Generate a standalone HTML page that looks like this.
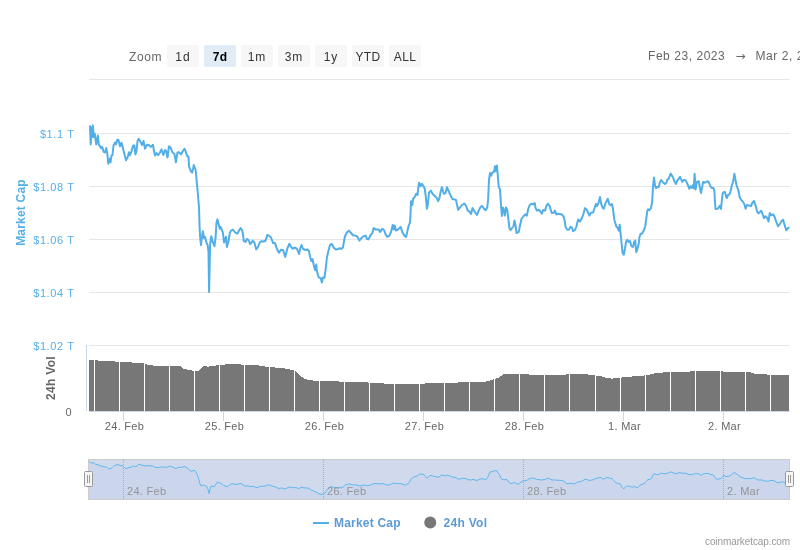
<!DOCTYPE html>
<html lang="en"><head><meta charset="utf-8"><title>Global Charts</title>
<style>html,body{margin:0;padding:0;background:#fff;}body{width:800px;height:550px;overflow:hidden;}svg{display:block;}text{font-family:"Liberation Sans", sans-serif;}</style></head><body>
<svg width="800" height="550" viewBox="0 0 800 550">
<rect x="0" y="0" width="800" height="550" fill="#ffffff"/>
<path d="M89 79.5 H790" stroke="#e6e6e6" stroke-width="1" fill="none"/>
<path d="M89 133.5 H790" stroke="#e6e6e6" stroke-width="1" fill="none"/>
<path d="M89 186.5 H790" stroke="#e6e6e6" stroke-width="1" fill="none"/>
<path d="M89 239.5 H790" stroke="#e6e6e6" stroke-width="1" fill="none"/>
<path d="M89 292.5 H790" stroke="#e6e6e6" stroke-width="1" fill="none"/>
<path d="M89 345.5 H790" stroke="#e6e6e6" stroke-width="1" fill="none"/>
<text x="129" y="61" font-size="12" fill="#666666" letter-spacing="0.6">Zoom</text>
<rect x="167" y="45" width="32" height="22" rx="2" ry="2" fill="#f7f7f7"/>
<text x="183" y="60.7" font-size="12" text-anchor="middle" fill="#333333" letter-spacing="1.0">1d</text>
<rect x="204" y="45" width="32" height="22" rx="2" ry="2" fill="#e1ecf7"/>
<text x="220" y="60.7" font-size="12" text-anchor="middle" fill="#000000" font-weight="bold" letter-spacing="0.3">7d</text>
<rect x="241" y="45" width="32" height="22" rx="2" ry="2" fill="#f7f7f7"/>
<text x="257" y="60.7" font-size="12" text-anchor="middle" fill="#333333" letter-spacing="1.0">1m</text>
<rect x="278" y="45" width="32" height="22" rx="2" ry="2" fill="#f7f7f7"/>
<text x="294" y="60.7" font-size="12" text-anchor="middle" fill="#333333" letter-spacing="1.0">3m</text>
<rect x="315" y="45" width="32" height="22" rx="2" ry="2" fill="#f7f7f7"/>
<text x="331" y="60.7" font-size="12" text-anchor="middle" fill="#333333" letter-spacing="1.0">1y</text>
<rect x="352" y="45" width="32" height="22" rx="2" ry="2" fill="#f7f7f7"/>
<text x="368" y="60.7" font-size="12" text-anchor="middle" fill="#333333" letter-spacing="0.3">YTD</text>
<rect x="389" y="45" width="32" height="22" rx="2" ry="2" fill="#f7f7f7"/>
<text x="405" y="60.7" font-size="12" text-anchor="middle" fill="#333333" letter-spacing="0.3">ALL</text>
<text x="648" y="60" font-size="12" fill="#666666" letter-spacing="0.55">Feb 23, 2023</text>
<text x="735.5" y="59.5" font-size="12" fill="#666666" style="font-family:'DejaVu Sans',sans-serif">→</text>
<text x="755.5" y="60" font-size="12" fill="#666666" letter-spacing="0.55">Mar 2, 2023</text>
<text x="74.5" y="137.9" font-size="11" text-anchor="end" fill="#55afe8" letter-spacing="0.6">$1.1 T</text>
<text x="74.5" y="190.9" font-size="11" text-anchor="end" fill="#55afe8" letter-spacing="0.6">$1.08 T</text>
<text x="74.5" y="243.9" font-size="11" text-anchor="end" fill="#55afe8" letter-spacing="0.6">$1.06 T</text>
<text x="74.5" y="296.9" font-size="11" text-anchor="end" fill="#55afe8" letter-spacing="0.6">$1.04 T</text>
<text x="74.5" y="349.9" font-size="11" text-anchor="end" fill="#55afe8" letter-spacing="0.6">$1.02 T</text>
<text x="71.5" y="416" font-size="11" text-anchor="end" fill="#666666">0</text>
<text transform="translate(24.5 212.5) rotate(-90)" font-size="12" font-weight="bold" text-anchor="middle" letter-spacing="0.2" fill="#55afe8">Market Cap</text>
<text transform="translate(55 378) rotate(-90)" font-size="12" font-weight="bold" text-anchor="middle" letter-spacing="0.3" fill="#666666">24h Vol</text>
<path d="M89.30 411.00 L89.30 360.10 L100.00 360.60 L110.00 361.00 L119.00 362.00 L130.00 362.40 L144.00 363.40 L150.00 365.40 L169.00 366.00 L180.00 366.00 L184.00 369.00 L192.00 370.60 L198.00 371.00 L203.00 366.00 L208.00 366.60 L214.00 366.00 L218.00 365.00 L230.00 364.20 L238.00 364.40 L256.00 365.00 L268.00 367.00 L284.00 368.20 L292.00 370.00 L296.00 371.00 L300.00 376.00 L304.00 378.40 L308.00 380.00 L318.00 381.00 L336.00 381.20 L344.00 382.00 L366.00 382.40 L386.00 383.60 L396.00 384.00 L413.00 383.60 L438.00 383.40 L460.00 382.40 L480.00 382.00 L486.00 381.60 L490.00 380.40 L494.00 379.00 L499.00 377.60 L503.00 374.40 L510.00 373.60 L518.00 374.00 L528.00 374.40 L532.00 375.00 L564.00 375.00 L568.00 374.20 L586.00 374.00 L592.00 375.40 L600.00 375.60 L604.00 377.40 L612.00 378.60 L619.00 378.00 L624.00 377.00 L640.00 376.00 L648.00 375.00 L656.00 373.00 L664.00 372.40 L672.00 372.00 L694.00 371.40 L720.00 371.00 L724.00 371.80 L744.00 372.00 L749.00 372.00 L754.00 373.60 L768.00 374.60 L772.00 375.00 L789.00 375.00 L789.00 411.00 Z" fill="#777777" stroke="none" shape-rendering="crispEdges"/>
<path d="M94.50 355 V411 M119.50 355 V411 M144.50 355 V411 M169.50 355 V411 M194.50 355 V411 M219.50 355 V411 M244.50 355 V411 M269.50 355 V411 M294.50 355 V411 M319.50 355 V411 M344.50 355 V411 M369.50 355 V411 M394.50 355 V411 M419.50 355 V411 M444.50 355 V411 M469.50 355 V411 M494.50 355 V411 M519.50 355 V411 M544.50 355 V411 M569.50 355 V411 M595.50 355 V411 M620.50 355 V411 M645.50 355 V411 M670.50 355 V411 M695.50 355 V411 M720.50 355 V411 M745.50 355 V411 M770.50 355 V411" stroke="#ffffff" stroke-width="1" fill="none"/>
<path d="M86.5 345 V411" stroke="#ccd6eb" stroke-width="1" fill="none"/>
<path d="M89 411.5 H790" stroke="#ccd6eb" stroke-width="1" fill="none"/>
<path d="M123.5 411 V421" stroke="#ccd6eb" stroke-width="1" fill="none"/>
<text x="124.5" y="429.6" font-size="11" text-anchor="middle" fill="#666666" letter-spacing="0.3">24. Feb</text>
<path d="M223.5 411 V421" stroke="#ccd6eb" stroke-width="1" fill="none"/>
<text x="224.5" y="429.6" font-size="11" text-anchor="middle" fill="#666666" letter-spacing="0.3">25. Feb</text>
<path d="M323.5 411 V421" stroke="#ccd6eb" stroke-width="1" fill="none"/>
<text x="324.5" y="429.6" font-size="11" text-anchor="middle" fill="#666666" letter-spacing="0.3">26. Feb</text>
<path d="M423.5 411 V421" stroke="#ccd6eb" stroke-width="1" fill="none"/>
<text x="424.5" y="429.6" font-size="11" text-anchor="middle" fill="#666666" letter-spacing="0.3">27. Feb</text>
<path d="M523.5 411 V421" stroke="#ccd6eb" stroke-width="1" fill="none"/>
<text x="524.5" y="429.6" font-size="11" text-anchor="middle" fill="#666666" letter-spacing="0.3">28. Feb</text>
<path d="M623.5 411 V421" stroke="#ccd6eb" stroke-width="1" fill="none"/>
<text x="624.5" y="429.6" font-size="11" text-anchor="middle" fill="#666666" letter-spacing="0.3">1. Mar</text>
<path d="M723.5 411 V421" stroke="#ccd6eb" stroke-width="1" fill="none"/>
<text x="724.5" y="429.6" font-size="11" text-anchor="middle" fill="#666666" letter-spacing="0.3">2. Mar</text>
<path d="M90.00 126.25 L90.70 144.40 L91.60 127.50 L92.30 137.00 L92.90 125.60 L93.75 136.90 L94.75 133.75 L96.25 144.40 L97.90 135.60 L98.75 144.40 L101.25 148.10 L102.10 146.90 L103.75 151.90 L105.25 152.50 L106.25 148.10 L107.25 153.10 L108.25 163.75 L109.50 158.75 L110.50 162.25 L111.50 155.60 L112.50 155.00 L113.50 145.60 L115.00 142.50 L116.00 144.40 L117.25 139.75 L118.50 140.00 L120.00 146.25 L121.60 142.75 L123.10 148.75 L124.75 155.60 L126.00 160.25 L127.50 157.50 L129.00 152.25 L130.00 155.25 L131.50 151.25 L133.10 145.60 L134.40 145.40 L135.40 154.40 L136.50 151.25 L137.50 141.25 L138.75 138.75 L140.60 141.90 L142.00 145.00 L143.50 141.00 L145.00 148.75 L146.90 144.75 L148.75 145.00 L151.00 146.90 L153.00 144.75 L154.00 151.25 L155.00 155.60 L156.50 153.10 L158.10 155.25 L160.00 152.50 L161.50 149.40 L163.40 155.00 L165.00 150.00 L166.20 151.20 L167.50 157.50 L169.00 146.25 L170.60 147.50 L172.50 152.50 L174.40 153.75 L175.90 162.25 L177.50 152.50 L179.00 152.25 L181.00 154.40 L183.10 150.60 L184.60 148.75 L185.60 151.25 L186.90 155.60 L188.50 156.90 L189.00 166.25 L190.60 170.60 L192.10 172.75 L193.10 168.75 L193.75 165.00 L195.60 169.75 L196.60 180.00 L197.50 190.00 L198.10 196.50 L199.00 207.50 L199.60 227.50 L200.25 238.75 L201.00 245.25 L201.90 237.50 L202.90 231.25 L204.00 238.10 L205.00 236.90 L206.25 241.90 L207.75 245.60 L208.50 252.00 L209.10 292.00 L210.10 244.50 L211.25 236.25 L212.75 241.90 L214.40 246.25 L215.60 237.50 L216.50 222.50 L217.50 219.40 L218.75 224.40 L219.75 228.75 L220.60 226.90 L221.90 230.00 L222.90 232.50 L224.00 242.50 L225.00 240.00 L226.00 236.90 L226.90 246.90 L228.50 241.25 L229.75 233.10 L231.00 230.60 L233.10 229.75 L235.00 232.25 L237.25 233.75 L239.00 230.60 L240.60 228.10 L242.10 230.00 L243.10 235.00 L243.75 241.00 L245.60 241.90 L246.90 239.00 L248.75 240.25 L250.00 244.00 L251.25 243.10 L252.75 240.60 L254.40 242.50 L256.25 249.40 L257.75 247.50 L260.00 241.90 L261.90 241.25 L263.75 241.50 L265.60 240.60 L267.25 235.00 L269.00 235.60 L271.00 237.50 L273.10 243.10 L275.00 243.10 L276.90 248.75 L279.00 252.75 L281.00 249.75 L283.10 250.00 L285.25 256.90 L287.25 248.75 L289.40 243.75 L291.00 246.90 L292.75 248.75 L294.40 247.50 L296.90 248.75 L299.00 254.00 L300.25 248.10 L301.50 245.00 L303.10 249.00 L305.60 250.00 L307.50 249.40 L309.00 251.25 L310.25 257.50 L311.25 261.00 L312.50 259.00 L313.75 265.00 L315.00 270.00 L316.25 264.40 L316.90 271.25 L318.75 277.50 L320.60 278.10 L321.90 282.50 L322.90 277.50 L324.40 277.75 L325.60 270.00 L326.90 257.50 L328.50 250.60 L330.00 245.00 L331.90 244.00 L333.75 247.75 L336.25 249.60 L338.10 249.00 L340.00 248.10 L341.25 249.00 L342.90 247.75 L344.00 241.25 L345.00 236.25 L346.90 232.50 L348.75 230.60 L350.60 232.50 L353.10 235.25 L355.00 235.60 L357.25 236.50 L359.40 240.60 L361.50 238.10 L363.75 236.25 L365.60 235.60 L366.90 238.75 L368.50 239.40 L370.60 235.00 L372.25 233.10 L373.75 228.10 L375.60 229.40 L378.75 229.60 L380.25 231.90 L382.25 228.75 L384.00 230.00 L385.60 234.40 L387.25 236.90 L389.40 235.60 L391.25 231.25 L392.75 225.00 L393.75 229.40 L394.75 225.60 L396.00 230.60 L398.10 229.40 L400.60 226.90 L402.25 231.90 L404.40 235.60 L406.00 236.90 L407.25 231.90 L408.50 226.25 L410.00 222.50 L410.60 212.50 L411.00 201.25 L412.25 205.00 L413.10 198.75 L414.75 196.90 L416.25 193.75 L417.50 195.00 L418.50 186.25 L419.10 182.75 L420.60 186.25 L421.90 183.75 L423.50 186.25 L424.75 188.75 L425.60 195.00 L426.90 208.75 L427.75 205.00 L429.00 192.50 L431.00 190.60 L432.50 193.75 L435.00 196.25 L436.90 198.10 L438.10 201.25 L439.40 198.10 L440.60 191.90 L441.90 187.10 L443.75 193.75 L445.60 193.10 L446.90 187.25 L448.75 191.25 L450.60 195.60 L452.50 199.00 L454.40 199.40 L456.00 200.00 L456.90 204.40 L458.10 209.75 L460.00 207.50 L461.90 205.00 L464.40 203.50 L466.25 206.25 L467.75 210.60 L469.75 211.90 L471.00 214.00 L472.50 208.10 L474.40 211.25 L476.90 215.00 L478.75 210.60 L480.60 206.90 L482.25 206.00 L484.00 208.75 L485.60 210.25 L487.25 207.50 L488.10 200.00 L489.00 180.00 L490.00 173.10 L491.25 175.60 L492.25 172.50 L494.00 171.90 L495.00 166.25 L496.00 171.25 L496.90 165.60 L497.75 175.00 L498.75 186.90 L500.00 189.40 L501.00 205.00 L501.90 216.00 L502.75 207.50 L503.75 209.40 L504.75 215.60 L506.00 207.50 L507.25 210.00 L508.50 220.00 L509.40 228.10 L510.60 230.00 L512.50 227.50 L513.50 226.25 L514.40 220.60 L515.60 225.60 L516.50 233.10 L518.75 231.90 L520.00 225.60 L521.50 218.75 L523.50 216.25 L525.25 214.40 L526.90 215.60 L528.10 209.40 L529.75 205.00 L531.50 203.75 L533.10 204.40 L534.75 203.10 L535.60 208.10 L536.90 210.60 L538.75 209.75 L540.25 211.25 L541.90 213.75 L543.10 210.00 L545.00 210.60 L546.25 206.25 L547.75 203.75 L549.40 205.60 L550.60 209.40 L551.90 213.10 L553.75 212.75 L555.00 210.60 L556.25 214.40 L558.10 213.75 L560.00 214.00 L561.90 214.40 L563.75 216.90 L564.75 221.25 L565.60 226.90 L566.90 229.40 L568.75 229.75 L570.60 226.90 L571.90 227.50 L573.10 231.25 L575.00 230.00 L576.50 226.25 L578.10 219.40 L580.00 221.50 L581.90 218.10 L583.50 213.75 L585.00 208.10 L586.90 210.00 L589.40 215.60 L591.00 212.75 L593.10 212.50 L594.75 207.50 L596.00 203.75 L596.90 206.25 L598.50 203.10 L600.00 196.90 L601.00 203.10 L602.50 207.50 L603.75 208.75 L605.60 203.10 L607.75 198.75 L609.40 204.40 L610.60 205.25 L611.90 204.00 L612.75 207.50 L614.40 220.00 L616.25 226.25 L617.75 228.10 L618.75 230.60 L619.75 224.75 L620.60 233.75 L621.50 242.50 L622.50 252.50 L623.75 254.75 L625.00 248.75 L626.00 241.90 L627.25 239.75 L628.75 241.90 L630.00 241.00 L631.50 246.25 L633.10 246.90 L634.10 241.90 L635.25 240.60 L636.25 252.25 L637.50 248.75 L638.75 243.75 L639.40 237.50 L640.60 233.75 L641.90 233.75 L643.75 230.60 L645.25 226.25 L646.25 218.75 L647.25 211.25 L648.10 209.40 L649.40 210.25 L651.00 208.10 L652.25 201.25 L652.90 187.50 L654.00 177.50 L655.00 185.60 L656.00 188.10 L657.50 186.90 L658.75 186.90 L660.00 181.90 L661.25 180.00 L663.10 182.50 L665.00 184.00 L666.50 182.50 L667.50 179.40 L668.75 178.75 L670.60 173.50 L671.90 175.60 L673.10 177.50 L674.40 181.25 L676.00 184.00 L677.25 180.60 L678.75 178.75 L680.00 176.90 L681.25 179.40 L682.25 181.90 L683.75 180.00 L685.25 180.00 L686.90 182.75 L688.10 185.60 L689.40 188.75 L690.60 186.25 L691.90 187.75 L693.10 185.00 L693.75 188.50 L694.60 173.75 L695.60 189.40 L696.90 181.90 L698.75 181.25 L700.00 188.10 L701.00 193.10 L702.25 186.90 L703.10 181.90 L704.75 182.75 L706.25 181.90 L707.75 181.25 L709.00 182.50 L710.25 186.00 L711.90 188.10 L713.50 188.10 L714.40 191.25 L715.00 202.50 L715.60 209.00 L717.50 208.75 L718.75 207.50 L720.00 205.60 L721.00 209.00 L721.90 200.00 L722.75 193.10 L724.00 191.90 L725.00 191.90 L726.00 196.25 L726.90 198.10 L727.75 195.25 L729.40 194.40 L730.60 191.25 L731.90 185.00 L733.10 181.90 L734.40 173.75 L735.25 178.75 L736.50 185.00 L737.75 188.75 L738.75 191.90 L739.75 197.50 L741.25 200.00 L743.10 201.90 L744.40 204.40 L745.60 208.75 L746.90 205.00 L748.75 205.60 L751.00 206.00 L752.50 202.50 L754.00 201.00 L755.60 205.60 L757.25 211.90 L758.50 213.50 L760.00 211.90 L761.25 210.60 L762.50 214.00 L764.00 218.10 L765.60 216.25 L767.25 218.10 L768.50 221.50 L769.75 213.10 L771.50 215.25 L773.10 214.40 L774.40 216.25 L776.25 221.90 L778.10 226.25 L780.00 223.75 L781.50 221.25 L783.10 219.75 L784.40 224.40 L786.25 230.25 L787.50 228.75 L788.75 227.50" stroke="#52aee7" stroke-width="2" fill="none" stroke-linejoin="round" stroke-linecap="round"/>
<path d="M89.00 499.50 L89.00 461.55 L90.00 462.22 L91.00 463.25 L92.00 462.97 L93.00 462.51 L94.00 463.14 L95.00 463.95 L96.00 464.56 L97.00 464.50 L98.00 464.41 L99.00 465.16 L100.00 465.83 L101.00 466.03 L102.00 466.18 L103.00 466.54 L104.00 466.96 L105.00 466.96 L106.00 466.78 L107.00 467.38 L108.00 468.50 L109.00 468.94 L110.00 468.81 L111.00 468.44 L112.00 467.70 L113.00 466.66 L114.00 465.67 L115.00 465.24 L116.00 465.14 L117.00 464.80 L118.00 464.63 L119.00 465.05 L120.00 465.49 L121.00 465.50 L122.00 465.63 L123.00 466.29 L124.00 467.16 L125.00 468.02 L126.00 468.53 L127.00 468.39 L128.00 467.82 L129.00 467.47 L130.00 467.46 L131.00 467.17 L132.00 466.50 L133.00 465.93 L134.00 465.98 L135.00 466.62 L136.00 466.77 L137.00 465.86 L138.00 464.81 L139.00 464.47 L140.00 464.69 L141.00 465.11 L142.00 465.30 L143.00 465.20 L144.00 465.47 L145.00 465.98 L146.00 465.93 L147.00 465.62 L148.00 465.55 L149.00 465.64 L150.00 465.79 L151.00 465.87 L152.00 465.74 L153.00 465.92 L154.00 466.79 L155.00 467.51 L156.00 467.56 L157.00 467.52 L158.00 467.60 L159.00 467.47 L160.00 467.14 L161.00 466.86 L162.00 466.96 L163.00 467.26 L164.00 467.17 L165.00 466.86 L166.00 467.01 L167.00 467.43 L168.00 467.11 L169.00 466.28 L170.00 466.04 L171.00 466.39 L172.00 466.84 L173.00 467.19 L174.00 467.54 L175.00 468.21 L176.00 468.56 L177.00 467.98 L178.00 467.31 L179.00 467.18 L180.00 467.35 L181.00 467.42 L182.00 467.19 L183.00 466.83 L184.00 466.61 L185.00 466.72 L186.00 467.20 L187.00 467.73 L188.00 468.50 L189.00 469.74 L190.00 470.67 L191.00 471.13 L192.00 471.21 L193.00 470.73 L194.00 470.31 L195.00 470.70 L196.00 472.00 L197.00 474.03 L198.00 476.41 L199.00 479.73 L200.00 483.84 L201.00 485.99 L202.00 485.41 L203.00 484.76 L204.00 485.09 L205.00 485.51 L206.00 486.03 L207.00 486.76 L208.00 489.35 L209.00 493.60 L210.00 489.21 L211.00 486.13 L212.00 485.83 L213.00 486.40 L214.00 486.69 L215.00 485.88 L216.00 484.00 L217.00 482.37 L218.00 482.11 L219.00 482.72 L220.00 483.21 L221.00 483.44 L222.00 483.85 L223.00 484.80 L224.00 485.81 L225.00 485.86 L226.00 485.91 L227.00 486.59 L228.00 486.46 L229.00 485.45 L230.00 484.49 L231.00 483.97 L232.00 483.80 L233.00 483.79 L234.00 483.97 L235.00 484.20 L236.00 484.38 L237.00 484.42 L238.00 484.24 L239.00 483.90 L240.00 483.61 L241.00 483.55 L242.00 483.91 L243.00 484.83 L244.00 485.81 L245.00 486.18 L246.00 486.04 L247.00 485.84 L248.00 485.87 L249.00 486.20 L250.00 486.55 L251.00 486.56 L252.00 486.32 L253.00 486.20 L254.00 486.42 L255.00 486.97 L256.00 487.51 L257.00 487.62 L258.00 487.32 L259.00 486.84 L260.00 486.42 L261.00 486.23 L262.00 486.19 L263.00 486.19 L264.00 486.17 L265.00 486.02 L266.00 485.64 L267.00 485.16 L268.00 484.93 L269.00 484.99 L270.00 485.16 L271.00 485.45 L272.00 485.93 L273.00 486.37 L274.00 486.55 L275.00 486.72 L276.00 487.19 L277.00 487.76 L278.00 488.22 L279.00 488.44 L280.00 488.30 L281.00 488.07 L282.00 488.01 L283.00 488.18 L284.00 488.67 L285.00 489.05 L286.00 488.76 L287.00 488.06 L288.00 487.42 L289.00 487.04 L290.00 487.04 L291.00 487.32 L292.00 487.57 L293.00 487.66 L294.00 487.61 L295.00 487.59 L296.00 487.68 L297.00 487.92 L298.00 488.36 L299.00 488.51 L300.00 487.97 L301.00 487.39 L302.00 487.37 L303.00 487.67 L304.00 487.89 L305.00 487.97 L306.00 487.99 L307.00 487.98 L308.00 488.08 L309.00 488.51 L310.00 489.31 L311.00 489.98 L312.00 490.24 L313.00 490.64 L314.00 491.43 L315.00 491.86 L316.00 491.92 L317.00 492.51 L318.00 493.34 L319.00 493.82 L320.00 494.07 L321.00 494.39 L322.00 494.51 L323.00 494.17 L324.00 493.75 L325.00 492.94 L326.00 491.42 L327.00 489.80 L328.00 488.64 L329.00 487.78 L330.00 487.14 L331.00 486.87 L332.00 486.92 L333.00 487.21 L334.00 487.54 L335.00 487.75 L336.00 487.87 L337.00 487.88 L338.00 487.82 L339.00 487.73 L340.00 487.69 L341.00 487.72 L342.00 487.65 L343.00 487.18 L344.00 486.21 L345.00 485.26 L346.00 484.68 L347.00 484.31 L348.00 484.08 L349.00 484.02 L350.00 484.16 L351.00 484.39 L352.00 484.62 L353.00 484.81 L354.00 484.91 L355.00 484.97 L356.00 485.04 L357.00 485.19 L358.00 485.47 L359.00 485.76 L360.00 485.81 L361.00 485.63 L362.00 485.41 L363.00 485.23 L364.00 485.09 L365.00 485.06 L366.00 485.24 L367.00 485.54 L368.00 485.66 L369.00 485.48 L370.00 485.12 L371.00 484.76 L372.00 484.39 L373.00 483.91 L374.00 483.55 L375.00 483.52 L376.00 483.61 L377.00 483.65 L378.00 483.68 L379.00 483.81 L380.00 483.96 L381.00 483.87 L382.00 483.66 L383.00 483.63 L384.00 483.86 L385.00 484.32 L386.00 484.79 L387.00 485.07 L388.00 485.11 L389.00 484.95 L390.00 484.62 L391.00 484.08 L392.00 483.45 L393.00 483.16 L394.00 483.20 L395.00 483.34 L396.00 483.64 L397.00 483.76 L398.00 483.62 L399.00 483.43 L400.00 483.31 L401.00 483.48 L402.00 483.95 L403.00 484.42 L404.00 484.78 L405.00 485.04 L406.00 484.98 L407.00 484.36 L408.00 483.48 L409.00 482.74 L410.00 481.15 L411.00 478.90 L412.00 477.83 L413.00 477.39 L414.00 476.87 L415.00 476.52 L416.00 476.24 L417.00 475.94 L418.00 475.15 L419.00 474.24 L420.00 474.05 L421.00 474.11 L422.00 474.06 L423.00 474.24 L424.00 474.69 L425.00 475.61 L426.00 477.19 L427.00 478.32 L428.00 477.65 L429.00 476.22 L430.00 475.53 L431.00 475.49 L432.00 475.74 L433.00 476.08 L434.00 476.32 L435.00 476.53 L436.00 476.75 L437.00 477.07 L438.00 477.30 L439.00 477.02 L440.00 476.24 L441.00 475.37 L442.00 475.00 L443.00 475.37 L444.00 475.82 L445.00 475.82 L446.00 475.38 L447.00 474.97 L448.00 475.12 L449.00 475.60 L450.00 476.08 L451.00 476.53 L452.00 476.89 L453.00 477.10 L454.00 477.19 L455.00 477.26 L456.00 477.58 L457.00 478.35 L458.00 479.06 L459.00 479.16 L460.00 478.93 L461.00 478.66 L462.00 478.43 L463.00 478.26 L464.00 478.20 L465.00 478.32 L466.00 478.65 L467.00 479.13 L468.00 479.55 L469.00 479.79 L470.00 480.01 L471.00 480.03 L472.00 479.64 L473.00 479.40 L474.00 479.60 L475.00 479.93 L476.00 480.24 L477.00 480.31 L478.00 479.99 L479.00 479.51 L480.00 479.10 L481.00 478.81 L482.00 478.73 L483.00 478.90 L484.00 479.17 L485.00 479.35 L486.00 479.30 L487.00 478.74 L488.00 476.78 L489.00 473.80 L490.00 472.06 L491.00 471.80 L492.00 471.66 L493.00 471.43 L494.00 471.04 L495.00 470.68 L496.00 470.67 L497.00 471.06 L498.00 472.52 L499.00 474.24 L500.00 475.80 L501.00 478.11 L502.00 479.64 L503.00 479.58 L504.00 479.68 L505.00 479.82 L506.00 479.39 L507.00 479.61 L508.00 480.87 L509.00 482.37 L510.00 483.33 L511.00 483.55 L512.00 483.36 L513.00 482.95 L514.00 482.48 L515.00 482.59 L516.00 483.42 L517.00 484.13 L518.00 484.19 L519.00 483.71 L520.00 482.84 L521.00 481.93 L522.00 481.30 L523.00 480.95 L524.00 480.71 L525.00 480.55 L526.00 480.53 L527.00 480.28 L528.00 479.58 L529.00 478.87 L530.00 478.45 L531.00 478.24 L532.00 478.21 L533.00 478.21 L534.00 478.21 L535.00 478.50 L536.00 479.09 L537.00 479.48 L538.00 479.52 L539.00 479.53 L540.00 479.71 L541.00 479.97 L542.00 479.99 L543.00 479.71 L544.00 479.56 L545.00 479.40 L546.00 478.93 L547.00 478.47 L548.00 478.31 L549.00 478.50 L550.00 478.98 L551.00 479.56 L552.00 479.99 L553.00 480.07 L554.00 479.91 L555.00 479.86 L556.00 480.12 L557.00 480.32 L558.00 480.31 L559.00 480.31 L560.00 480.34 L561.00 480.38 L562.00 480.50 L563.00 480.78 L564.00 481.34 L565.00 482.23 L566.00 483.10 L567.00 483.55 L568.00 483.65 L569.00 483.55 L570.00 483.33 L571.00 483.21 L572.00 483.42 L573.00 483.77 L574.00 483.88 L575.00 483.66 L576.00 483.17 L577.00 482.45 L578.00 481.84 L579.00 481.73 L580.00 481.78 L581.00 481.55 L582.00 481.11 L583.00 480.54 L584.00 479.85 L585.00 479.32 L586.00 479.29 L587.00 479.58 L588.00 480.00 L589.00 480.35 L590.00 480.36 L591.00 480.15 L592.00 480.04 L593.00 479.87 L594.00 479.41 L595.00 478.78 L596.00 478.42 L597.00 478.40 L598.00 478.15 L599.00 477.50 L600.00 477.23 L601.00 477.82 L602.00 478.58 L603.00 478.94 L604.00 478.88 L605.00 478.41 L606.00 477.86 L607.00 477.47 L608.00 477.47 L609.00 477.90 L610.00 478.27 L611.00 478.35 L612.00 478.57 L613.00 479.49 L614.00 480.83 L615.00 481.96 L616.00 482.69 L617.00 483.14 L618.00 483.42 L619.00 483.46 L620.00 483.84 L621.00 485.37 L622.00 487.29 L623.00 488.46 L624.00 488.53 L625.00 487.66 L626.00 486.58 L627.00 486.06 L628.00 486.09 L629.00 486.18 L630.00 486.34 L631.00 486.78 L632.00 487.19 L633.00 487.10 L634.00 486.57 L635.00 486.62 L636.00 487.49 L637.00 487.84 L638.00 487.23 L639.00 486.17 L640.00 485.17 L641.00 484.65 L642.00 484.44 L643.00 484.14 L644.00 483.68 L645.00 482.92 L646.00 481.69 L647.00 480.36 L648.00 479.60 L649.00 479.42 L650.00 479.31 L651.00 478.85 L652.00 477.33 L653.00 474.84 L654.00 473.44 L655.00 473.95 L656.00 474.61 L657.00 474.64 L658.00 474.50 L659.00 474.16 L660.00 473.60 L661.00 473.25 L662.00 473.31 L663.00 473.54 L664.00 473.74 L665.00 473.82 L666.00 473.64 L667.00 473.27 L668.00 472.91 L669.00 472.54 L670.00 472.12 L671.00 471.95 L672.00 472.15 L673.00 472.55 L674.00 473.05 L675.00 473.52 L676.00 473.67 L677.00 473.39 L678.00 473.00 L679.00 472.70 L680.00 472.58 L681.00 472.84 L682.00 473.18 L683.00 473.23 L684.00 473.11 L685.00 473.12 L686.00 473.35 L687.00 473.73 L688.00 474.21 L689.00 474.58 L690.00 474.63 L691.00 474.58 L692.00 474.50 L693.00 474.24 L694.00 473.78 L695.00 473.66 L696.00 473.92 L697.00 473.72 L698.00 473.46 L699.00 473.85 L700.00 474.76 L701.00 475.33 L702.00 474.76 L703.00 473.88 L704.00 473.58 L705.00 473.57 L706.00 473.50 L707.00 473.41 L708.00 473.43 L709.00 473.69 L710.00 474.13 L711.00 474.52 L712.00 474.73 L713.00 474.88 L714.00 475.75 L715.00 477.54 L716.00 478.90 L717.00 479.20 L718.00 479.07 L719.00 478.84 L720.00 478.80 L721.00 478.56 L722.00 477.35 L723.00 476.10 L724.00 475.65 L725.00 475.84 L726.00 476.38 L727.00 476.64 L728.00 476.41 L729.00 476.11 L730.00 475.71 L731.00 474.99 L732.00 474.18 L733.00 473.34 L734.00 472.63 L735.00 472.70 L736.00 473.53 L737.00 474.40 L738.00 475.14 L739.00 475.95 L740.00 476.73 L741.00 477.22 L742.00 477.49 L743.00 477.76 L744.00 478.17 L745.00 478.64 L746.00 478.77 L747.00 478.57 L748.00 478.48 L749.00 478.54 L750.00 478.58 L751.00 478.49 L752.00 478.16 L753.00 477.80 L754.00 477.76 L755.00 478.19 L756.00 478.89 L757.00 479.58 L758.00 479.99 L759.00 480.05 L760.00 479.88 L761.00 479.81 L762.00 480.09 L763.00 480.62 L764.00 481.00 L765.00 481.01 L766.00 480.98 L767.00 481.21 L768.00 481.41 L769.00 481.07 L770.00 480.52 L771.00 480.42 L772.00 480.50 L773.00 480.52 L774.00 480.75 L775.00 481.24 L776.00 481.83 L777.00 482.39 L778.00 482.73 L779.00 482.68 L780.00 482.40 L781.00 482.08 L782.00 481.80 L783.00 481.80 L784.00 482.26 L785.00 482.95 L786.00 483.47 L787.00 483.56 L788.00 483.40 L789.00 483.26 L789.00 499.50 Z" fill="#45a6e2" fill-opacity="0.05" stroke="none"/>
<path d="M123.5 460 V499" stroke="#b3c1e0" stroke-width="1" stroke-dasharray="1 1" fill="none"/>
<path d="M323.5 460 V499" stroke="#b3c1e0" stroke-width="1" stroke-dasharray="1 1" fill="none"/>
<path d="M523.5 460 V499" stroke="#b3c1e0" stroke-width="1" stroke-dasharray="1 1" fill="none"/>
<path d="M723.5 460 V499" stroke="#b3c1e0" stroke-width="1" stroke-dasharray="1 1" fill="none"/>
<rect x="88.5" y="459.5" width="701" height="40" fill="#6685c2" fill-opacity="0.3" stroke="none"/>
<path d="M89.00 461.55 L90.00 462.22 L91.00 463.25 L92.00 462.97 L93.00 462.51 L94.00 463.14 L95.00 463.95 L96.00 464.56 L97.00 464.50 L98.00 464.41 L99.00 465.16 L100.00 465.83 L101.00 466.03 L102.00 466.18 L103.00 466.54 L104.00 466.96 L105.00 466.96 L106.00 466.78 L107.00 467.38 L108.00 468.50 L109.00 468.94 L110.00 468.81 L111.00 468.44 L112.00 467.70 L113.00 466.66 L114.00 465.67 L115.00 465.24 L116.00 465.14 L117.00 464.80 L118.00 464.63 L119.00 465.05 L120.00 465.49 L121.00 465.50 L122.00 465.63 L123.00 466.29 L124.00 467.16 L125.00 468.02 L126.00 468.53 L127.00 468.39 L128.00 467.82 L129.00 467.47 L130.00 467.46 L131.00 467.17 L132.00 466.50 L133.00 465.93 L134.00 465.98 L135.00 466.62 L136.00 466.77 L137.00 465.86 L138.00 464.81 L139.00 464.47 L140.00 464.69 L141.00 465.11 L142.00 465.30 L143.00 465.20 L144.00 465.47 L145.00 465.98 L146.00 465.93 L147.00 465.62 L148.00 465.55 L149.00 465.64 L150.00 465.79 L151.00 465.87 L152.00 465.74 L153.00 465.92 L154.00 466.79 L155.00 467.51 L156.00 467.56 L157.00 467.52 L158.00 467.60 L159.00 467.47 L160.00 467.14 L161.00 466.86 L162.00 466.96 L163.00 467.26 L164.00 467.17 L165.00 466.86 L166.00 467.01 L167.00 467.43 L168.00 467.11 L169.00 466.28 L170.00 466.04 L171.00 466.39 L172.00 466.84 L173.00 467.19 L174.00 467.54 L175.00 468.21 L176.00 468.56 L177.00 467.98 L178.00 467.31 L179.00 467.18 L180.00 467.35 L181.00 467.42 L182.00 467.19 L183.00 466.83 L184.00 466.61 L185.00 466.72 L186.00 467.20 L187.00 467.73 L188.00 468.50 L189.00 469.74 L190.00 470.67 L191.00 471.13 L192.00 471.21 L193.00 470.73 L194.00 470.31 L195.00 470.70 L196.00 472.00 L197.00 474.03 L198.00 476.41 L199.00 479.73 L200.00 483.84 L201.00 485.99 L202.00 485.41 L203.00 484.76 L204.00 485.09 L205.00 485.51 L206.00 486.03 L207.00 486.76 L208.00 489.35 L209.00 493.60 L210.00 489.21 L211.00 486.13 L212.00 485.83 L213.00 486.40 L214.00 486.69 L215.00 485.88 L216.00 484.00 L217.00 482.37 L218.00 482.11 L219.00 482.72 L220.00 483.21 L221.00 483.44 L222.00 483.85 L223.00 484.80 L224.00 485.81 L225.00 485.86 L226.00 485.91 L227.00 486.59 L228.00 486.46 L229.00 485.45 L230.00 484.49 L231.00 483.97 L232.00 483.80 L233.00 483.79 L234.00 483.97 L235.00 484.20 L236.00 484.38 L237.00 484.42 L238.00 484.24 L239.00 483.90 L240.00 483.61 L241.00 483.55 L242.00 483.91 L243.00 484.83 L244.00 485.81 L245.00 486.18 L246.00 486.04 L247.00 485.84 L248.00 485.87 L249.00 486.20 L250.00 486.55 L251.00 486.56 L252.00 486.32 L253.00 486.20 L254.00 486.42 L255.00 486.97 L256.00 487.51 L257.00 487.62 L258.00 487.32 L259.00 486.84 L260.00 486.42 L261.00 486.23 L262.00 486.19 L263.00 486.19 L264.00 486.17 L265.00 486.02 L266.00 485.64 L267.00 485.16 L268.00 484.93 L269.00 484.99 L270.00 485.16 L271.00 485.45 L272.00 485.93 L273.00 486.37 L274.00 486.55 L275.00 486.72 L276.00 487.19 L277.00 487.76 L278.00 488.22 L279.00 488.44 L280.00 488.30 L281.00 488.07 L282.00 488.01 L283.00 488.18 L284.00 488.67 L285.00 489.05 L286.00 488.76 L287.00 488.06 L288.00 487.42 L289.00 487.04 L290.00 487.04 L291.00 487.32 L292.00 487.57 L293.00 487.66 L294.00 487.61 L295.00 487.59 L296.00 487.68 L297.00 487.92 L298.00 488.36 L299.00 488.51 L300.00 487.97 L301.00 487.39 L302.00 487.37 L303.00 487.67 L304.00 487.89 L305.00 487.97 L306.00 487.99 L307.00 487.98 L308.00 488.08 L309.00 488.51 L310.00 489.31 L311.00 489.98 L312.00 490.24 L313.00 490.64 L314.00 491.43 L315.00 491.86 L316.00 491.92 L317.00 492.51 L318.00 493.34 L319.00 493.82 L320.00 494.07 L321.00 494.39 L322.00 494.51 L323.00 494.17 L324.00 493.75 L325.00 492.94 L326.00 491.42 L327.00 489.80 L328.00 488.64 L329.00 487.78 L330.00 487.14 L331.00 486.87 L332.00 486.92 L333.00 487.21 L334.00 487.54 L335.00 487.75 L336.00 487.87 L337.00 487.88 L338.00 487.82 L339.00 487.73 L340.00 487.69 L341.00 487.72 L342.00 487.65 L343.00 487.18 L344.00 486.21 L345.00 485.26 L346.00 484.68 L347.00 484.31 L348.00 484.08 L349.00 484.02 L350.00 484.16 L351.00 484.39 L352.00 484.62 L353.00 484.81 L354.00 484.91 L355.00 484.97 L356.00 485.04 L357.00 485.19 L358.00 485.47 L359.00 485.76 L360.00 485.81 L361.00 485.63 L362.00 485.41 L363.00 485.23 L364.00 485.09 L365.00 485.06 L366.00 485.24 L367.00 485.54 L368.00 485.66 L369.00 485.48 L370.00 485.12 L371.00 484.76 L372.00 484.39 L373.00 483.91 L374.00 483.55 L375.00 483.52 L376.00 483.61 L377.00 483.65 L378.00 483.68 L379.00 483.81 L380.00 483.96 L381.00 483.87 L382.00 483.66 L383.00 483.63 L384.00 483.86 L385.00 484.32 L386.00 484.79 L387.00 485.07 L388.00 485.11 L389.00 484.95 L390.00 484.62 L391.00 484.08 L392.00 483.45 L393.00 483.16 L394.00 483.20 L395.00 483.34 L396.00 483.64 L397.00 483.76 L398.00 483.62 L399.00 483.43 L400.00 483.31 L401.00 483.48 L402.00 483.95 L403.00 484.42 L404.00 484.78 L405.00 485.04 L406.00 484.98 L407.00 484.36 L408.00 483.48 L409.00 482.74 L410.00 481.15 L411.00 478.90 L412.00 477.83 L413.00 477.39 L414.00 476.87 L415.00 476.52 L416.00 476.24 L417.00 475.94 L418.00 475.15 L419.00 474.24 L420.00 474.05 L421.00 474.11 L422.00 474.06 L423.00 474.24 L424.00 474.69 L425.00 475.61 L426.00 477.19 L427.00 478.32 L428.00 477.65 L429.00 476.22 L430.00 475.53 L431.00 475.49 L432.00 475.74 L433.00 476.08 L434.00 476.32 L435.00 476.53 L436.00 476.75 L437.00 477.07 L438.00 477.30 L439.00 477.02 L440.00 476.24 L441.00 475.37 L442.00 475.00 L443.00 475.37 L444.00 475.82 L445.00 475.82 L446.00 475.38 L447.00 474.97 L448.00 475.12 L449.00 475.60 L450.00 476.08 L451.00 476.53 L452.00 476.89 L453.00 477.10 L454.00 477.19 L455.00 477.26 L456.00 477.58 L457.00 478.35 L458.00 479.06 L459.00 479.16 L460.00 478.93 L461.00 478.66 L462.00 478.43 L463.00 478.26 L464.00 478.20 L465.00 478.32 L466.00 478.65 L467.00 479.13 L468.00 479.55 L469.00 479.79 L470.00 480.01 L471.00 480.03 L472.00 479.64 L473.00 479.40 L474.00 479.60 L475.00 479.93 L476.00 480.24 L477.00 480.31 L478.00 479.99 L479.00 479.51 L480.00 479.10 L481.00 478.81 L482.00 478.73 L483.00 478.90 L484.00 479.17 L485.00 479.35 L486.00 479.30 L487.00 478.74 L488.00 476.78 L489.00 473.80 L490.00 472.06 L491.00 471.80 L492.00 471.66 L493.00 471.43 L494.00 471.04 L495.00 470.68 L496.00 470.67 L497.00 471.06 L498.00 472.52 L499.00 474.24 L500.00 475.80 L501.00 478.11 L502.00 479.64 L503.00 479.58 L504.00 479.68 L505.00 479.82 L506.00 479.39 L507.00 479.61 L508.00 480.87 L509.00 482.37 L510.00 483.33 L511.00 483.55 L512.00 483.36 L513.00 482.95 L514.00 482.48 L515.00 482.59 L516.00 483.42 L517.00 484.13 L518.00 484.19 L519.00 483.71 L520.00 482.84 L521.00 481.93 L522.00 481.30 L523.00 480.95 L524.00 480.71 L525.00 480.55 L526.00 480.53 L527.00 480.28 L528.00 479.58 L529.00 478.87 L530.00 478.45 L531.00 478.24 L532.00 478.21 L533.00 478.21 L534.00 478.21 L535.00 478.50 L536.00 479.09 L537.00 479.48 L538.00 479.52 L539.00 479.53 L540.00 479.71 L541.00 479.97 L542.00 479.99 L543.00 479.71 L544.00 479.56 L545.00 479.40 L546.00 478.93 L547.00 478.47 L548.00 478.31 L549.00 478.50 L550.00 478.98 L551.00 479.56 L552.00 479.99 L553.00 480.07 L554.00 479.91 L555.00 479.86 L556.00 480.12 L557.00 480.32 L558.00 480.31 L559.00 480.31 L560.00 480.34 L561.00 480.38 L562.00 480.50 L563.00 480.78 L564.00 481.34 L565.00 482.23 L566.00 483.10 L567.00 483.55 L568.00 483.65 L569.00 483.55 L570.00 483.33 L571.00 483.21 L572.00 483.42 L573.00 483.77 L574.00 483.88 L575.00 483.66 L576.00 483.17 L577.00 482.45 L578.00 481.84 L579.00 481.73 L580.00 481.78 L581.00 481.55 L582.00 481.11 L583.00 480.54 L584.00 479.85 L585.00 479.32 L586.00 479.29 L587.00 479.58 L588.00 480.00 L589.00 480.35 L590.00 480.36 L591.00 480.15 L592.00 480.04 L593.00 479.87 L594.00 479.41 L595.00 478.78 L596.00 478.42 L597.00 478.40 L598.00 478.15 L599.00 477.50 L600.00 477.23 L601.00 477.82 L602.00 478.58 L603.00 478.94 L604.00 478.88 L605.00 478.41 L606.00 477.86 L607.00 477.47 L608.00 477.47 L609.00 477.90 L610.00 478.27 L611.00 478.35 L612.00 478.57 L613.00 479.49 L614.00 480.83 L615.00 481.96 L616.00 482.69 L617.00 483.14 L618.00 483.42 L619.00 483.46 L620.00 483.84 L621.00 485.37 L622.00 487.29 L623.00 488.46 L624.00 488.53 L625.00 487.66 L626.00 486.58 L627.00 486.06 L628.00 486.09 L629.00 486.18 L630.00 486.34 L631.00 486.78 L632.00 487.19 L633.00 487.10 L634.00 486.57 L635.00 486.62 L636.00 487.49 L637.00 487.84 L638.00 487.23 L639.00 486.17 L640.00 485.17 L641.00 484.65 L642.00 484.44 L643.00 484.14 L644.00 483.68 L645.00 482.92 L646.00 481.69 L647.00 480.36 L648.00 479.60 L649.00 479.42 L650.00 479.31 L651.00 478.85 L652.00 477.33 L653.00 474.84 L654.00 473.44 L655.00 473.95 L656.00 474.61 L657.00 474.64 L658.00 474.50 L659.00 474.16 L660.00 473.60 L661.00 473.25 L662.00 473.31 L663.00 473.54 L664.00 473.74 L665.00 473.82 L666.00 473.64 L667.00 473.27 L668.00 472.91 L669.00 472.54 L670.00 472.12 L671.00 471.95 L672.00 472.15 L673.00 472.55 L674.00 473.05 L675.00 473.52 L676.00 473.67 L677.00 473.39 L678.00 473.00 L679.00 472.70 L680.00 472.58 L681.00 472.84 L682.00 473.18 L683.00 473.23 L684.00 473.11 L685.00 473.12 L686.00 473.35 L687.00 473.73 L688.00 474.21 L689.00 474.58 L690.00 474.63 L691.00 474.58 L692.00 474.50 L693.00 474.24 L694.00 473.78 L695.00 473.66 L696.00 473.92 L697.00 473.72 L698.00 473.46 L699.00 473.85 L700.00 474.76 L701.00 475.33 L702.00 474.76 L703.00 473.88 L704.00 473.58 L705.00 473.57 L706.00 473.50 L707.00 473.41 L708.00 473.43 L709.00 473.69 L710.00 474.13 L711.00 474.52 L712.00 474.73 L713.00 474.88 L714.00 475.75 L715.00 477.54 L716.00 478.90 L717.00 479.20 L718.00 479.07 L719.00 478.84 L720.00 478.80 L721.00 478.56 L722.00 477.35 L723.00 476.10 L724.00 475.65 L725.00 475.84 L726.00 476.38 L727.00 476.64 L728.00 476.41 L729.00 476.11 L730.00 475.71 L731.00 474.99 L732.00 474.18 L733.00 473.34 L734.00 472.63 L735.00 472.70 L736.00 473.53 L737.00 474.40 L738.00 475.14 L739.00 475.95 L740.00 476.73 L741.00 477.22 L742.00 477.49 L743.00 477.76 L744.00 478.17 L745.00 478.64 L746.00 478.77 L747.00 478.57 L748.00 478.48 L749.00 478.54 L750.00 478.58 L751.00 478.49 L752.00 478.16 L753.00 477.80 L754.00 477.76 L755.00 478.19 L756.00 478.89 L757.00 479.58 L758.00 479.99 L759.00 480.05 L760.00 479.88 L761.00 479.81 L762.00 480.09 L763.00 480.62 L764.00 481.00 L765.00 481.01 L766.00 480.98 L767.00 481.21 L768.00 481.41 L769.00 481.07 L770.00 480.52 L771.00 480.42 L772.00 480.50 L773.00 480.52 L774.00 480.75 L775.00 481.24 L776.00 481.83 L777.00 482.39 L778.00 482.73 L779.00 482.68 L780.00 482.40 L781.00 482.08 L782.00 481.80 L783.00 481.80 L784.00 482.26 L785.00 482.95 L786.00 483.47 L787.00 483.56 L788.00 483.40 L789.00 483.26" stroke="#62b8ee" stroke-width="1" fill="none" stroke-linejoin="round"/>
<rect x="88.5" y="459.5" width="701" height="40" fill="none" stroke="#cccccc" stroke-width="1"/>
<text x="127.0" y="494.6" font-size="11" fill="#949494" letter-spacing="0.3">24. Feb</text>
<text x="327.0" y="494.6" font-size="11" fill="#949494" letter-spacing="0.3">26. Feb</text>
<text x="527.0" y="494.6" font-size="11" fill="#949494" letter-spacing="0.3">28. Feb</text>
<text x="727.0" y="494.6" font-size="11" fill="#949494" letter-spacing="0.3">2. Mar</text>
<rect x="84.5" y="471.5" width="8" height="15" rx="1" ry="1" fill="#f5f5f5" stroke="#999999" stroke-width="1"/>
<path d="M87.5 475 V483 M89.5 475 V483" stroke="#999999" stroke-width="1" fill="none"/>
<rect x="785.5" y="471.5" width="8" height="15" rx="1" ry="1" fill="#f5f5f5" stroke="#999999" stroke-width="1"/>
<path d="M788.5 475 V483 M790.5 475 V483" stroke="#999999" stroke-width="1" fill="none"/>
<path d="M313 523 H329" stroke="#52aee7" stroke-width="2" fill="none"/>
<text x="334" y="527" font-size="12" font-weight="bold" fill="#5b9bd5" letter-spacing="0.2">Market Cap</text>
<circle cx="430.25" cy="522.5" r="6" fill="#777777"/>
<text x="443.5" y="527" font-size="12" font-weight="bold" fill="#5b9bd5" letter-spacing="0.3">24h Vol</text>
<text x="790" y="545" font-size="10" text-anchor="end" fill="#999999" letter-spacing="-0.1">coinmarketcap.com</text>
</svg></body></html>
